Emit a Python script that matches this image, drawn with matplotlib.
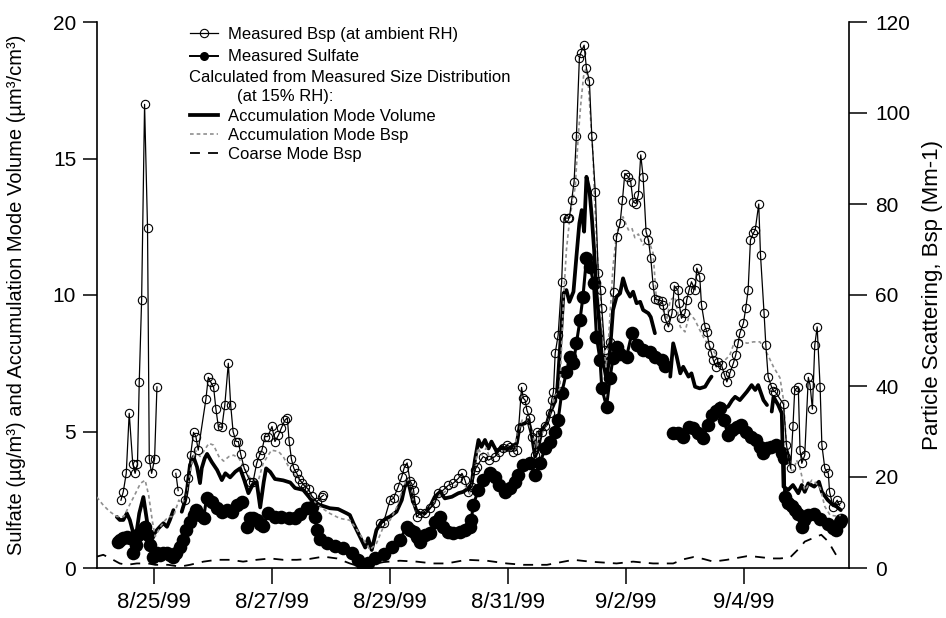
import numpy as np
import matplotlib
matplotlib.use("Agg")
import matplotlib.pyplot as plt
import matplotlib.dates as mdates
from matplotlib.ticker import FuncFormatter
from matplotlib.lines import Line2D

plt.rcParams['font.family'] = ['Liberation Sans', 'DejaVu Sans']

NaN = np.nan
START = np.datetime64('1999-08-24T00:00')

# ---- Measured Bsp at ambient RH (Mm-1); time in days after 8/24/99 00:00 ----
bsp_day = [0.44, 0.48, 0.53, 0.58, 0.64, 0.68, 0.72, 0.75, 0.79, 0.84, 0.89, 0.92, 0.96, 1.01, 1.05,
           1.20,
           1.37, 1.41,
           1.47,
           1.53, 1.57, 1.62, 1.67, 1.71, 1.75, 1.88, 1.92, 1.96, 2.01,
           2.05, 2.09, 2.15, 2.20, 2.26, 2.30, 2.34, 2.39, 2.43, 2.47,
           2.53, 2.63, 2.68, 2.74, 2.79, 2.83, 2.88, 2.93, 3.00, 3.05,
           3.11, 3.16, 3.22, 3.26, 3.29, 3.33, 3.37, 3.42, 3.46, 3.51,
           3.56, 3.62, 3.67, 3.76, 3.84, 3.87,
           4.30,
           4.83, 4.89, 5.00, 5.06, 5.14, 5.20, 5.24, 5.29, 5.34, 5.37,
           5.40, 5.42, 5.45, 5.51, 5.59, 5.68, 5.76, 5.82, 5.90, 5.99,
           6.07, 6.16, 6.22, 6.27, 6.33, 6.39, 6.44, 6.47, 6.58, 6.67,
           6.78, 6.84, 6.92, 6.98, 7.03, 7.09, 7.15, 7.18, 7.23, 7.26,
           7.29, 7.32, 7.37, 7.40, 7.46, 7.49, 7.57, 7.63, 7.71, 7.74,
           7.77, 7.80, 7.85, 7.91, 7.95, 8.01, 8.04, 8.08, 8.12, 8.16,
           8.21, 8.23, 8.29, 8.33, 8.38, 8.42, 8.48, 8.53, 8.57, 8.59,
           8.64, 8.73, 8.79, 8.84, 8.90, 8.94, 8.98, 9.04, 9.08, 9.12,
           9.17, 9.21, 9.25, 9.29, 9.34, 9.38, 9.42, 9.46, 9.49, 9.55,
           9.61, 9.63, 9.66, 9.72, 9.78, 9.82, 9.88, 9.90, 9.94, 10.00,
           10.03, 10.07, 10.11, 10.17, 10.20, 10.25, 10.28, 10.34, 10.37, 10.41,
           10.45, 10.48, 10.53, 10.56, 10.62, 10.67, 10.71, 10.76, 10.82, 10.86,
           10.90, 10.93, 10.99, 11.03, 11.07, 11.11, 11.16, 11.19, 11.25, 11.28,
           11.34, 11.37, 11.41, 11.47, 11.50, 11.53, 11.67, 11.72, 11.79, 11.83,
           11.86, 11.92, 11.95, 11.98, 12.03, 12.09, 12.12, 12.16, 12.20, 12.24,
           12.29, 12.32, 12.37, 12.43, 12.45, 12.51, 12.58, 12.62]
bsp_val = [14.9, 16.8, 20.8, 34.0, 22.9, 20.8, 22.9, 40.9, 58.9, 101.9, 74.8, 23.9, 20.8, 23.9, 39.8,
           NaN,
           20.8, 17.0,
           NaN,
           14.9, 19.7, 24.8, 29.8, 28.9, 25.9, 37.1, 41.9, 40.9, 39.8,
           34.9, 31.1, 30.9, 35.8, 45.0, 35.8, 30.0, 27.8, 27.8, 25.0,
           21.9, 19.0, 19.0, 23.0, 24.8, 25.9, 28.9, 28.9, 31.1, 27.8,
           29.2, 30.8, 32.5, 33.0, 27.9, 23.9, 21.9, 20.8, 19.6, 18.7,
           17.9, 17.3, 15.9, 14.6, 15.7, 16.0,
           NaN,
           10.0, 10.0, 14.9, 15.3, 17.9, 20.1, 22.0, 23.1, 19.1, 18.5,
           17.1, 14.9, 11.2, 12.0, 12.0, 13.2, 14.2, 16.4, 17.1, 18.2,
           18.6, 19.7, 20.8, 19.3, 16.8, 17.9, 21.5, 22.3, 24.5, 23.7,
           24.5, 25.6, 26.3, 27.0, 26.7, 25.6, 25.9, 30.7, 39.7, 37.3,
           36.9, 34.7, 32.9, 28.9, 24.8, 30.0, 30.0, 31.1, 34.0, 36.9,
           38.7, 47.2, 51.2, 62.9, 76.9, 76.9, 76.9, 80.9, 84.9, 94.9,
           112.0, 113.1, 114.9, 109.8, 107.0, 94.9, 82.7, 64.8, 61.1, 57.1,
           47.9, 49.7, 60.7, 72.8, 75.8, 80.9, 86.7, 86.0, 84.9, 80.5,
           80.1, 82.0, 90.8, 86.0, 73.9, 72.1, 68.1, 62.2, 59.1, 58.9,
           58.7, 57.8, 54.9, 53.0, 56.0, 62.0, 61.1, 58.2, 54.9, 56.0,
           58.9, 61.1, 62.9, 61.1, 65.9, 64.0, 57.8, 53.0, 51.9, 49.0,
           47.2, 45.7, 44.2, 45.3, 44.6, 42.4, 40.9, 42.8, 45.0, 46.8,
           49.4, 51.6, 53.8, 57.1, 61.1, 72.1, 73.6, 74.3, 80.0, 68.8,
           56.0, 49.0, 42.0, 39.7, 38.9, 38.7, 36.0, 27.0, 21.9, 31.1,
           39.1, 39.8, 25.9, 23.0, 24.8, 41.9, 40.2, 34.9, 49.0, 53.0,
           39.8, 27.0, 21.9, 20.8, 16.8, 13.5, 14.9, 13.8]

# ---- Measured sulfate (ug/m3) ----
sulf_day = [0.39, 0.42, 0.48, 0.54, 0.59, 0.65, 0.69, 0.73, 0.79, 0.85,
            0.89, 0.93, 0.99, 1.05, 1.10, 1.16, 1.22, 1.27, 1.33, 1.38,
            1.44, 1.50, 1.55, 1.61, 1.67, 1.72, 1.78, 1.84, 1.89, 1.98,
            2.06, 2.15, 2.23, 2.32, 2.40, 2.49,
            2.53,
            2.57, 2.63, 2.68, 2.74, 2.80, 2.85, 2.94, 3.05, 3.16, 3.28,
            3.39, 3.47, 3.59, 3.67, 3.73, 3.76, 3.81, 3.93, 4.07, 4.21,
            4.35, 4.46, 4.55, 4.63, 4.75, 4.89, 5.03, 5.17, 5.28, 5.34,
            5.40, 5.45, 5.51, 5.59, 5.68, 5.76, 5.84, 5.90, 5.99, 6.07,
            6.19, 6.27, 6.36, 6.38, 6.41, 6.50, 6.58, 6.69, 6.78, 6.84,
            6.95, 7.03, 7.12, 7.17, 7.26, 7.37, 7.46, 7.54, 7.63, 7.71,
            7.80, 7.85, 7.91, 7.99, 8.05, 8.11, 8.16, 8.22, 8.27, 8.33,
            8.39, 8.45, 8.50, 8.56, 8.59, 8.67, 8.73, 8.78, 8.84, 8.90,
            9.01, 9.10, 9.18, 9.29, 9.41, 9.49, 9.61, 9.66,
            9.73,
            9.80, 9.88, 9.97, 10.06, 10.14, 10.22, 10.31, 10.39, 10.46, 10.53,
            10.59, 10.66, 10.73, 10.80, 10.88, 10.95, 11.03, 11.12, 11.20, 11.27,
            11.33, 11.39, 11.46, 11.55, 11.64, 11.68, 11.69, 11.75, 11.81, 11.86,
            11.92, 11.98, 12.02, 12.09, 12.19, 12.29, 12.42, 12.51, 12.56, 12.62,
            12.64]
sulf_val = [0.95, 1.03, 1.10, 1.15, 1.10, 0.54, 0.84, 1.21, 1.39, 1.51,
            1.21, 0.84, 0.41, 0.55, 0.48, 0.54, 0.54, 0.48, 0.41, 0.55,
            0.78, 1.03, 1.39, 1.70, 1.94, 2.12, 1.94, 1.82, 2.55, 2.43,
            2.19, 2.06, 2.12, 2.06, 2.31, 2.43,
            NaN,
            1.51, 1.83, 1.82, 1.76, 1.61, 1.54, 2.03, 1.88, 1.85, 1.82,
            1.83, 1.98, 2.18, 2.22, 1.88, 1.39, 1.06, 0.90, 0.82, 0.72,
            0.54, 0.29, 0.07, 0.20, 0.36, 0.51, 0.77, 1.03, 1.50, 1.39,
            1.32, 1.15, 0.96, 1.21, 1.27, 1.70, 1.88, 1.51, 1.33, 1.27,
            1.33, 1.39, 1.51, 1.76, 2.31, 2.86, 3.22, 3.47, 3.34, 3.04,
            2.79, 2.92, 3.16, 3.41, 3.77, 3.84, 3.41, 3.84, 4.38, 4.63,
            4.99, 5.42, 6.40, 7.18, 7.74, 7.50, 8.23, 9.08, 9.93, 11.34,
            11.04, 10.44, 8.46, 7.62, 6.58, 5.91, 6.96, 7.69, 8.10, 7.84,
            7.74, 8.60, 8.17, 7.99, 7.91, 7.74, 7.62, 7.40,
            NaN,
            4.93, 4.95, 4.81, 5.16, 5.13, 4.95, 4.76, 5.24, 5.60, 5.75,
            5.86, 5.42, 4.87, 5.05, 5.16, 5.24, 4.98, 4.80, 4.69, 4.43,
            4.21, 4.40, 4.43, 4.51, 4.21, 4.03, 2.61, 2.38, 2.27, 2.12,
            1.98, 1.51, 1.76, 1.94, 1.98, 1.79, 1.61, 1.47, 1.39, 1.68,
            1.76]

# ---- Accumulation mode volume (um3/cm3), from size distribution at 15% RH ----
vol_day = [0.37, 0.42, 0.48, 0.54, 0.59, 0.65, 0.71, 0.75, 0.82, 0.88,
           0.93, 0.99, 1.05, 1.10, 1.16, 1.22, 1.27, 1.33,
           1.40,
           1.47, 1.53, 1.56, 1.61, 1.67, 1.73, 1.78, 1.81, 1.86, 1.90,
           1.98, 2.07, 2.15, 2.21, 2.29, 2.38, 2.46, 2.53, 2.60, 2.68,
           2.74, 2.80, 2.86, 2.90, 2.97, 3.05, 3.19, 3.31, 3.39, 3.53,
           3.67, 3.81, 3.98, 4.12, 4.27, 4.32, 4.38, 4.49, 4.58, 4.63,
           4.69, 4.77, 4.86, 4.94, 5.00, 5.11, 5.20, 5.25, 5.31, 5.37,
           5.45, 5.51, 5.59, 5.68, 5.76, 5.85, 5.93, 6.05, 6.16, 6.24,
           6.33, 6.38, 6.44, 6.50, 6.55, 6.61, 6.67, 6.72, 6.81, 6.89,
           6.98, 7.06, 7.15, 7.20, 7.29, 7.34, 7.40, 7.46, 7.51, 7.57,
           7.66, 7.71, 7.77, 7.83, 7.85, 7.91, 7.94, 7.99, 8.04, 8.11,
           8.16, 8.21, 8.25, 8.29, 8.33, 8.38, 8.42, 8.46, 8.50, 8.56,
           8.59, 8.64, 8.67, 8.73, 8.78, 8.84, 8.90, 8.95, 9.01, 9.07,
           9.12, 9.18, 9.24, 9.29, 9.38, 9.42, 9.49,
           9.62,
           9.75, 9.80, 9.86, 9.92, 9.97, 10.06, 10.11, 10.17, 10.25, 10.34,
           10.41, 10.45,
           10.46,
           10.47, 10.53, 10.59, 10.66, 10.73, 10.80, 10.85, 10.93, 11.05, 11.13,
           11.19, 11.24, 11.33, 11.39,
           11.43,
           11.47, 11.50, 11.58, 11.64, 11.67, 11.75, 11.83, 11.92, 11.98, 12.03,
           12.09, 12.19, 12.27, 12.32, 12.42, 12.51, 12.57, 12.64]
vol_val = [1.87, 1.76, 1.76, 2.00, 1.76, 1.27, 1.39, 2.00, 2.60, 1.76,
           1.03, 1.21, 1.39, 1.51, 1.64, 1.51, 1.76, 2.12,
           NaN,
           2.06, 2.49, 2.86, 3.77, 4.07, 3.70, 3.11, 3.66, 4.02, 4.18,
           3.88, 3.59, 3.22, 3.47, 3.32, 3.53, 3.65, 3.22, 2.74, 3.08,
           3.15, 2.22, 3.15, 3.65, 3.52, 3.26, 3.21, 3.13, 2.93, 2.86,
           2.49, 2.31, 2.19, 2.16, 2.00, 1.94, 1.64, 1.15, 0.75, 1.09,
           0.66, 1.39, 1.70, 1.82, 1.88, 2.06, 2.49, 2.98, 3.16, 2.60,
           2.09, 2.00, 2.00, 2.25, 2.61, 2.79, 2.55, 2.61, 2.74, 2.79,
           2.92, 3.04, 3.96, 4.69, 4.44, 4.69, 4.38, 4.63, 4.26, 4.44,
           4.32, 4.44, 4.57, 5.24, 5.30, 5.42, 4.93, 4.08, 4.38, 5.05,
           5.30, 5.68, 5.97, 6.40, 7.01, 8.96, 10.06, 10.18, 9.75, 10.12,
           11.40, 12.63, 13.11, 12.32, 14.33, 13.85, 12.87, 11.65, 10.06, 8.72,
           7.62, 7.25, 6.89, 7.99, 9.45, 9.94, 10.06, 10.61, 10.18, 9.94,
           10.12, 9.70, 9.75, 9.45, 9.33, 9.19, 8.60,
           NaN,
           7.01, 8.23, 7.74, 7.13, 7.37, 7.01, 7.13, 6.64, 6.58, 6.64,
           6.89, 7.01,
           NaN,
           5.60, 5.79, 6.03, 5.86, 5.91, 6.15, 6.27, 6.15, 6.46, 6.70,
           6.52, 6.70, 6.15, 5.97,
           NaN,
           5.73, 6.27, 5.97, 5.67, 2.98, 2.86, 3.04, 2.74, 3.04, 2.79,
           3.10, 2.98, 3.16, 2.79, 2.49, 2.31, 2.25, 2.12]

# ---- Accumulation mode Bsp (Mm-1), from size distribution at 15% RH ----
acc_day = [0.03, 0.14, 0.25, 0.37, 0.49, 0.56, 0.66, 0.77, 0.85, 0.91,
           0.97, 1.02, 1.11, 1.19, 1.25, 1.33, 1.42, 1.47, 1.53, 1.59,
           1.64, 1.70, 1.78, 1.84, 1.93, 2.01, 2.10, 2.18, 2.27, 2.35,
           2.44, 2.52, 2.63, 2.77, 2.85, 2.99, 3.11, 3.19, 3.28, 3.36,
           3.47, 3.59, 3.70, 3.81, 3.98, 4.15, 4.32, 4.44, 4.55, 4.66,
           4.77, 4.89, 5.00, 5.11, 5.22, 5.29, 5.36, 5.44, 5.54, 5.64,
           5.76, 5.86, 5.98, 6.10, 6.20, 6.29, 6.36, 6.42, 6.49, 6.56,
           6.63, 6.69, 6.80, 6.90, 7.00, 7.10, 7.17, 7.24, 7.32, 7.41,
           7.46, 7.53, 7.61, 7.69, 7.75, 7.81, 7.88, 7.94, 7.99, 8.05,
           8.14, 8.19, 8.23, 8.28, 8.32, 8.36, 8.39, 8.44, 8.47, 8.51,
           8.56, 8.61, 8.66, 8.70, 8.78, 8.84, 8.90, 8.95, 9.04, 9.10,
           9.15, 9.21, 9.29, 9.38, 9.46, 9.52, 9.61, 9.69, 9.75, 9.83,
           9.92, 10.00, 10.08, 10.17, 10.25, 10.34, 10.42, 10.51, 10.59, 10.68,
           10.76, 10.85, 10.93, 11.05, 11.16, 11.27, 11.39, 11.50, 11.61, 11.67,
           11.72, 11.78, 11.83, 11.89, 11.95, 12.03, 12.09, 12.15, 12.20, 12.29,
           12.37, 12.46, 12.57, 12.64]
acc_val = [15.6, 13.8, 12.4, 11.3, 11.3, 13.2, 15.7, 18.6, 19.3, 16.0,
           10.5, 6.9, 9.1, 10.5, 11.3, 11.3, 14.9, 14.2, 15.3, 19.3,
           23.0, 25.9, 24.5, 25.6, 27.4, 27.0, 24.5, 23.5, 24.5, 24.8,
           24.1, 22.2, 19.7, 19.3, 23.0, 25.9, 25.6, 24.5, 22.3, 20.8,
           19.3, 17.9, 14.9, 13.5, 12.0, 10.9, 10.5, 8.4, 6.2, 4.0,
           5.4, 9.1, 10.5, 13.2, 17.6, 19.8, 16.7, 12.3, 11.6, 12.7,
           14.9, 16.3, 17.1, 18.0, 18.9, 17.8, 16.0, 20.4, 26.4, 24.8,
           26.4, 24.2, 24.8, 25.5, 25.9, 25.9, 29.9, 32.5, 32.5, 29.9,
           24.8, 28.6, 30.3, 33.0, 35.8, 38.0, 39.5, 58.9, 69.9, 77.2,
           83.8, 94.8, 101.4, 108.0, 109.8, 106.5, 100.7, 91.1, 80.2, 69.9,
           61.1, 50.8, 44.2, 49.4, 66.2, 73.6, 75.8, 77.2, 74.3, 74.7,
           72.6, 73.4, 71.0, 72.1, 69.2, 58.2, 57.4, 54.5, 58.9, 59.6,
           53.0, 51.9, 56.0, 54.5, 52.3, 50.1, 48.6, 47.2, 45.0, 45.7,
           46.8, 50.1, 50.1, 49.4, 49.7, 49.7, 47.2, 44.2, 41.8, 36.9,
           27.0, 22.3, 20.8, 23.7, 22.0, 17.1, 18.2, 19.3, 18.9, 17.6,
           13.5, 11.6, 11.4, 11.6]

# ---- Coarse mode Bsp (Mm-1), from size distribution at 15% RH ----
coarse_day = [0.03, 0.14, 0.25, 0.42, 0.54, 0.71, 0.90, 1.02, 1.24, 1.44,
              1.61, 1.84, 2.06, 2.29, 2.51, 2.74, 2.97, 3.19, 3.42, 3.64,
              3.87, 4.10, 4.32, 4.49, 4.66, 4.89, 5.17, 5.45, 5.73, 5.96,
              6.30, 6.64, 6.98, 7.26, 7.66, 8.11, 8.39, 8.84, 9.12, 9.46,
              9.80, 9.97, 10.14, 10.31, 10.48, 10.71, 11.05, 11.19, 11.47, 11.61,
              11.78, 11.95, 12.03, 12.23, 12.31, 12.43, 12.51, 12.56]
coarse_val = [2.5, 2.9, 2.2, 1.0, 0.7, 1.0, 1.0, 0.7, 0.7, 0.3,
              0.7, 1.4, 1.8, 1.8, 1.4, 1.8, 2.1, 1.8, 1.8, 2.0,
              2.5, 2.1, 1.0, 0.3, 0.7, 1.3, 1.6, 1.4, 1.0, 1.0,
              1.8, 1.6, 1.0, 0.7, 0.7, 1.8, 1.4, 1.0, 1.4, 1.0,
              1.0, 1.9, 2.4, 2.0, 1.4, 1.8, 2.6, 2.5, 2.1, 2.1,
              2.3, 4.5, 5.8, 6.9, 7.3, 5.8, 4.0, 2.9]

tick_days = [1, 3, 5, 7, 9, 11]


def to_time(days):
    minutes = np.round(np.asarray(days, dtype=float) * 1440).astype(np.int64)
    return START + minutes.astype('timedelta64[m]')


def date_label(value, pos):
    d = mdates.num2date(value)
    return f"{d.month}/{d.day}/{d:%y}"


W, H = 946, 618
fig = plt.figure(figsize=(W / 100, H / 100), dpi=100)
ax = fig.add_axes([97 / W, 1 - 568 / H, 752 / W, 546 / H])
ax2 = ax.twinx()

# left-axis series
ax.plot(to_time(vol_day), vol_val, color='black', lw=2.7,
        solid_joinstyle='round', solid_capstyle='round', zorder=3)
ax.plot(to_time(sulf_day), sulf_val, color='black', lw=2.2, marker='o',
        ms=9.8, mew=0, zorder=4)

# right-axis series
ax2.plot(to_time(coarse_day), coarse_val, color='black', lw=1.3,
         dashes=(5.5, 4.5), zorder=2)
ax2.plot(to_time(acc_day), acc_val, color='#8f8f8f', lw=1.2,
         dashes=(2.2, 1.8), zorder=3)
ax2.plot(to_time(bsp_day), bsp_val, color='black', lw=0.9, marker='o',
         ms=6, mfc='none', mec='black', mew=0.8, zorder=4)

ax.set_ylim(0, 20)
ax2.set_ylim(0, 120)
ax.set_yticks([0, 5, 10, 15, 20])
ax2.set_yticks([0, 20, 40, 60, 80, 100, 120])
ax.set_xlim(to_time([0.034])[0], to_time([12.78])[0])
ax.set_xticks(to_time(tick_days))
ax.xaxis.set_major_formatter(FuncFormatter(date_label))
ax.xaxis.set_minor_locator(matplotlib.ticker.NullLocator())

for s in ('top', 'right'):
    ax.spines[s].set_visible(False)
for s in ('top', 'left', 'bottom'):
    ax2.spines[s].set_visible(False)
for sp in (ax.spines['left'], ax.spines['bottom'], ax2.spines['right']):
    sp.set_linewidth(1.2)

ax.tick_params(axis='y', direction='out', length=10, width=1.1, labelsize=15, pad=5)
ax.tick_params(axis='x', direction='out', length=11.5, width=1.1, labelsize=16, pad=6)
ax2.tick_params(axis='y', direction='out', length=13, width=1.1, labelsize=15, pad=6)

ax.set_ylabel("Sulfate (µg/m³) and Accumulation Mode Volume (µm³/cm³)", fontsize=14.5)
ax.yaxis.set_label_coords((26 - 97) / 752, 0.5)
ax2.set_ylabel("Particle Scattering, Bsp (Mm-1)", fontsize=16)
ax2.yaxis.set_label_coords((922 - 97) / 752, 0.5)


def fx(px):
    return (px - 97) / 752


def fy(py):
    return (568 - py) / 546


h_bsp = Line2D([], [], color='black', lw=0.9, marker='o', ms=6, mfc='none', mew=0.8)
h_sul = Line2D([], [], color='black', lw=1.4, marker='o', ms=6.5, mew=0)
h_vol = Line2D([], [], color='black', lw=2.7)
h_acc = Line2D([], [], color='#8f8f8f', lw=1.2, dashes=(2.2, 1.8))
h_coarse = Line2D([], [], color='black', lw=1.3, dashes=(5.5, 4.5))

common = dict(loc='upper left', frameon=False, fontsize=12, handlelength=1.68,
              handletextpad=0.6, borderpad=0, borderaxespad=0, numpoints=1)
leg1 = ax2.legend([h_bsp, h_sul], ['Measured Bsp (at ambient RH)', 'Measured Sulfate'],
                  bbox_to_anchor=(fx(190), fy(27)), labelspacing=0.44, **common)
ax2.add_artist(leg1)
ax2.text(fx(189), fy(77), 'Calculated from Measured Size Distribution',
         transform=ax2.transAxes, fontsize=12, ha='left', va='center')
ax2.text(fx(237), fy(97), '(at 15% RH):',
         transform=ax2.transAxes, fontsize=12, ha='left', va='center')
ax2.legend([h_vol, h_acc, h_coarse],
           ['Accumulation Mode Volume', 'Accumulation Mode Bsp', 'Coarse Mode Bsp'],
           bbox_to_anchor=(fx(190), fy(109)), labelspacing=0.25, **common)

fig.savefig('out.png', dpi=100)
